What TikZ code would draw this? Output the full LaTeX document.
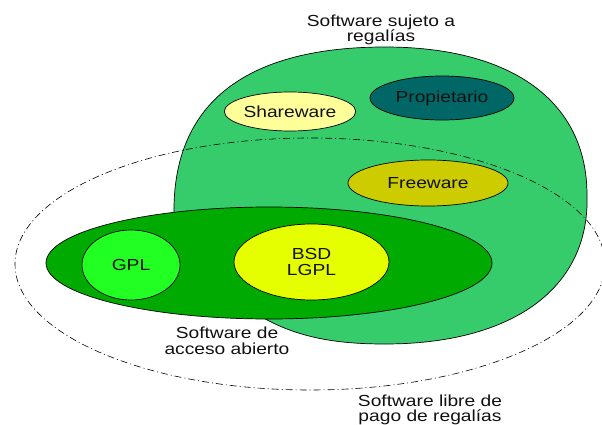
\documentclass[tikz,border=0pt]{standalone}
\usepackage{fontspec}
\setmainfont{Liberation Sans}[FakeStretch=1.2]
\usetikzlibrary{shapes.geometric}
\definecolor{blobgreen}{HTML}{36CC6C}
\definecolor{opengreen}{HTML}{00AA00}
\definecolor{gplgreen}{HTML}{22FF22}
\definecolor{bsdyellow}{HTML}{E6FF00}
\definecolor{sharecol}{HTML}{FFFF99}
\definecolor{propcol}{HTML}{006666}
\definecolor{freecol}{HTML}{CCCC00}
\definecolor{txt}{HTML}{111111}
\tikzset{
  set/.style={ellipse, draw=black, line width=0.7pt, inner sep=0pt, text=txt,
    font=\fontsize{16}{16}\selectfont, align=center},
  lbl/.style={text=txt, font=\fontsize{16}{15.5}\selectfont, align=center, inner sep=0pt},
  dashdot/.style={draw=black, line width=0.6pt, dash pattern=on 7pt off 3pt on 1pt off 3pt}
}
\begin{document}
\begin{tikzpicture}[x=1pt, y=-1pt]
\useasboundingbox (0,0) rectangle (602,425);
% royalty software blob
\draw[fill=blobgreen, line width=0.7pt] (174,215)
  .. controls (172,100) and (250,47) .. (385,47)
  .. controls (510,47) and (587,100) .. (587,195)
  .. controls (590,290) and (510,344) .. (385,344)
  .. controls (310,344) and (230,330) .. (174,215) -- cycle;
% royalty free (dash-dot)
\node[ellipse, dashdot, minimum width=590pt, minimum height=252pt, inner sep=0pt] (free) at (310,264) {};
% open access
\node[set, fill=opengreen, minimum width=446pt, minimum height=112pt] (open) at (269,263) {};
\node[set, fill=gplgreen, minimum width=98pt, minimum height=70pt] (gpl) at (131,265) {GPL};
\node[set, fill=bsdyellow, minimum width=155pt, minimum height=76pt] (bsd) at (311.5,262) {BSD\\LGPL};
\node[set, fill=sharecol, minimum width=112pt, minimum height=39pt] (share) at (290,111.5) {Shareware};
\node[set, fill=propcol, minimum width=144pt, minimum height=44pt] (prop) at (442,98) {Propietario};
\node[set, fill=freecol, minimum width=160pt, minimum height=46pt] (freew) at (428,183) {Freeware};
% labels
\node[lbl] (lroy) at (381,30) {Software sujeto a\\regalías};
\node[lbl] (lopen) at (227,341) {Software de\\acceso abierto};
\node[lbl] (lfree) at (430,410) {Software libre de\\pago de regalías};
\end{tikzpicture}
\end{document}
